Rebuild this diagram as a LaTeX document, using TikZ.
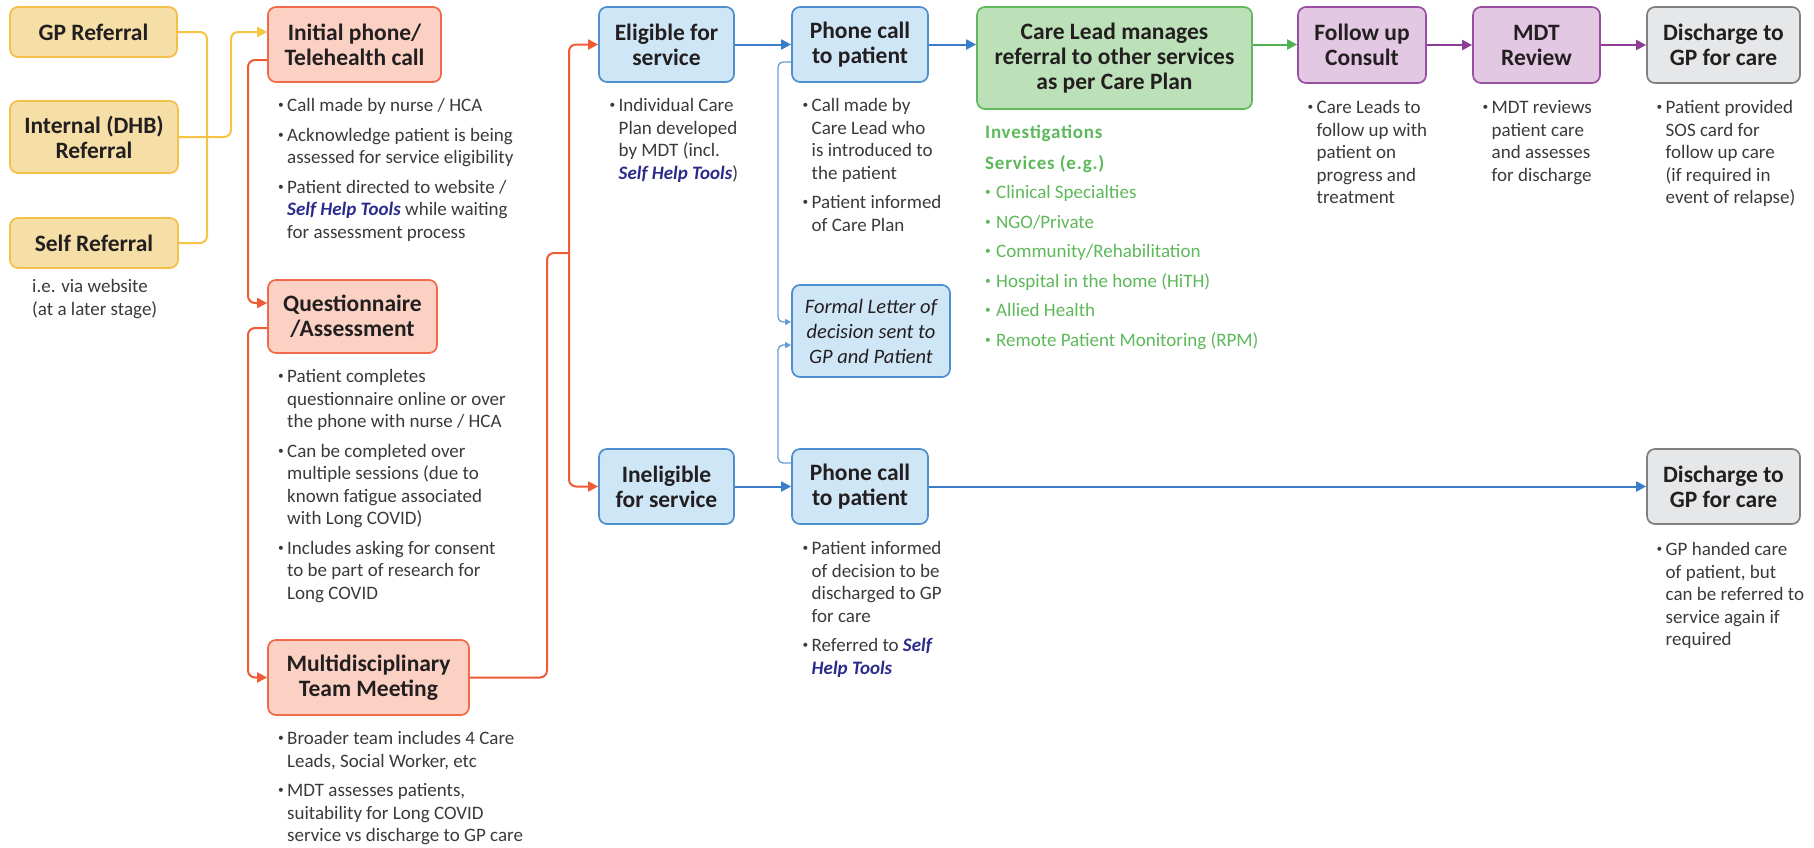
\documentclass[tikz,border=0pt]{standalone}
\usepackage{fontspec}
\usepackage{graphicx}
\setmainfont{Carlito}
\usetikzlibrary{arrows.meta}
\definecolor{ylfill}{HTML}{F5DFA7}
\definecolor{ylline}{HTML}{F3C04A}
\definecolor{ylconn}{HTML}{F6C345}
\definecolor{rdfill}{HTML}{FBD1C4}
\definecolor{rdline}{HTML}{F06A48}
\definecolor{rdconn}{HTML}{EF5B36}
\definecolor{blfill}{HTML}{CFE6F7}
\definecolor{blline}{HTML}{4F8FCF}
\definecolor{blconn}{HTML}{3A7DC9}
\definecolor{blthin}{HTML}{6A9BD3}
\definecolor{gnfill}{HTML}{BCE0B7}
\definecolor{gnline}{HTML}{62B85E}
\definecolor{gnconn}{HTML}{52B055}
\definecolor{gntxt}{HTML}{5DB85A}
\definecolor{pufill}{HTML}{E2C8E3}
\definecolor{puline}{HTML}{994FA1}
\definecolor{puconn}{HTML}{8E3D96}
\definecolor{gyfill}{HTML}{E6E7E8}
\definecolor{gyline}{HTML}{808080}
\definecolor{titlecol}{HTML}{231F20}
\definecolor{bodycol}{HTML}{3A3A3A}
\definecolor{shtcol}{HTML}{2B2A8A}
\newcommand{\ttl}{\fontsize{23.5}{25}\selectfont\bfseries}
\newcommand{\bdy}{\fontsize{19}{22.5}\selectfont}
\newcommand{\bu}[1][9pt]{\makebox[#1][l]{\raisebox{0.3ex}{\scalebox{0.6}{\textbullet}}}}
\newcommand{\sht}{\textcolor{shtcol}{\textbf{\textit{Self Help Tools}}}}
\newcommand{\shtw}[1]{\textcolor{shtcol}{\textbf{\textit{#1}}}}
\newcommand{\ghead}[1]{{\bfseries\addfontfeature{LetterSpace=4}#1}}
\tikzset{
  box/.style={draw, rounded corners=8pt, line width=1.7pt, align=center, inner sep=0pt, font=\ttl, text=titlecol},
  ybox/.style={box, draw=ylline, fill=ylfill},
  rbox/.style={box, draw=rdline, fill=rdfill},
  bbox/.style={box, draw=blline, fill=blfill},
  gbox/.style={box, draw=gnline, fill=gnfill},
  pbox/.style={box, draw=puline, fill=pufill},
  qbox/.style={box, draw=gyline, fill=gyfill},
  conn/.style={line width=2pt, rounded corners=7pt},
  thinconn/.style={line width=1.3pt, rounded corners=5pt, draw=blthin},
  arr/.style={-{Triangle[length=10pt,width=10pt]}},
  arrs/.style={-{Triangle[length=6pt,width=6pt]}},
  bodytxt/.style={anchor=north west, inner sep=0pt, font=\bdy, text=bodycol},
}
\begin{document}
\begin{tikzpicture}[x=1pt,y=-1pt]
\useasboundingbox (0,0) rectangle (1814,847);
% boxes
\node[ybox, minimum width=167pt, minimum height=50pt] (gp) at (93.5,32) {GP Referral};
\node[ybox, minimum width=168pt, minimum height=72pt] (internal) at (94,137) {Internal (DHB)\\Referral};
\node[ybox, minimum width=168pt, minimum height=50pt] (self) at (94,243) {Self Referral};
\node[rbox, minimum width=173pt, minimum height=75pt] (init) at (354.5,44.5) {Initial phone/\\Telehealth call};
\node[rbox, minimum width=169pt, minimum height=73pt] (quest) at (352.5,316.5) {Questionnaire\\/Assessment};
\node[rbox, minimum width=201pt, minimum height=75pt] (mdt) at (368.5,677.5) {Multidisciplinary\\Team Meeting};
\node[bbox, minimum width=135pt, minimum height=75pt] (elig) at (666.5,44.5) {Eligible for\\service};
\node[bbox, minimum width=135pt, minimum height=75pt] (inel) at (666.5,486.5) {Ineligible\\for service};
\node[bbox, minimum width=136pt, minimum height=75pt] (ph1) at (860,44.5) {Phone call\\to patient};
\node[bbox, minimum width=158pt, minimum height=92pt, font=\fontsize{20.5}{25}\selectfont\itshape] (letter) at (871,331) {Formal Letter of\\decision sent to\\GP and Patient};
\node[bbox, minimum width=136pt, minimum height=75pt] (ph2) at (860,486.5) {Phone call\\to patient};
\node[gbox, minimum width=275pt, minimum height=102pt] (care) at (1114.5,58) {Care Lead manages\\referral to other services\\as per Care Plan};
\node[pbox, minimum width=128pt, minimum height=76pt] (fu) at (1362,45) {Follow up\\Consult};
\node[pbox, minimum width=127pt, minimum height=76pt] (mdtr) at (1536.5,45) {MDT\\Review};
\node[qbox, minimum width=153pt, minimum height=76pt] (dis1) at (1723.5,45) {Discharge to\\GP for care};
\node[qbox, minimum width=153pt, minimum height=75pt] (dis2) at (1723.5,486.5) {Discharge to\\GP for care};
% helper coordinates
\coordinate (yv) at (207,0);
\coordinate (ym) at (231,0);
\coordinate (rv) at (248,60);
\coordinate (r303) at (0,303);
\coordinate (rq) at (248,328);
\coordinate (j1) at (547,253);
\coordinate (j2) at (569,253);
\coordinate (k1) at (778,62);
\coordinate (k2) at (0,322);
\coordinate (k3) at (778,463);
\coordinate (k4) at (0,345);
% connectors
\draw[conn, draw=ylconn] (gp.east) -| (yv |- self.east) -- (self.east);
\draw[conn, draw=ylconn, arr] (internal.east) -| (ym |- gp.east) -- (init.west |- gp.east);
\draw[conn, draw=rdconn, arr] (init.west |- rv) -- (rv) |- (quest.west |- r303);
\draw[conn, draw=rdconn, arr] (quest.west |- rq) -- (rq) |- (mdt.west);
\draw[conn, draw=rdconn] (mdt.east) -| (j1) -- (j2);
\draw[conn, draw=rdconn, arr] (j2) |- (elig.west);
\draw[conn, draw=rdconn, arr] (j2) |- (inel.west);
\draw[conn, draw=blconn, arr] (elig.east) -- (ph1.west |- elig.east);
\draw[conn, draw=blconn, arr] (ph1.east) -- (care.west |- ph1.east);
\draw[conn, draw=gnconn, arr] (care.east |- ph1.east) -- (fu.west |- ph1.east);
\draw[conn, draw=puconn, arr] (fu.east) -- (mdtr.west);
\draw[conn, draw=puconn, arr] (mdtr.east) -- (dis1.west);
\draw[conn, draw=blconn, arr] (inel.east) -- (ph2.west);
\draw[conn, draw=blconn, arr] (ph2.east) -- (dis2.west);
\draw[thinconn, arrs] (ph1.west |- k1) -- (k1) |- (letter.west |- k2);
\draw[thinconn, arrs] (ph2.west |- k3) -- (k3) |- (letter.west |- k4);
% texts
\node[bodytxt] (tnote) at (32,276.75) {\begin{tabular}{@{}l@{}}i.e. via website\\(at a later stage)\end{tabular}};
\node[bodytxt] (tinit) at (278,95.75) {\begin{tabular}{@{}l@{}l@{}}
\bu & Call made by nurse / HCA\\[7pt]
\bu & Acknowledge patient is being\\
 & assessed for service eligibility\\[7pt]
\bu & Patient directed to website /\\
 & \sht{} while waiting\\
 & for assessment process
\end{tabular}};
\node[bodytxt] (tquest) at (278,366.75) {\begin{tabular}{@{}l@{}l@{}}
\bu & Patient completes\\
 & questionnaire online or over\\
 & the phone with nurse / HCA\\[7pt]
\bu & Can be completed over\\
 & multiple sessions (due to\\
 & known fatigue associated\\
 & with Long COVID)\\[7pt]
\bu & Includes asking for consent\\
 & to be part of research for\\
 & Long COVID
\end{tabular}};
\node[bodytxt] (tmdt) at (278,728.75) {\begin{tabular}{@{}l@{}l@{}}
\bu & Broader team includes 4 Care\\
 & Leads, Social Worker, etc\\[7pt]
\bu & MDT assesses patients,\\
 & suitability for Long COVID\\
 & service vs discharge to GP care
\end{tabular}};
\node[bodytxt] (telig) at (609.5,95.75) {\begin{tabular}{@{}l@{}l@{}}
\bu & Individual Care\\
 & Plan developed\\
 & by MDT (incl.\\
 & \sht)
\end{tabular}};
\node[bodytxt] (tph1) at (802.5,95.75) {\begin{tabular}{@{}l@{}l@{}}
\bu & Call made by\\
 & Care Lead who\\
 & is introduced to\\
 & the patient\\[7pt]
\bu & Patient informed\\
 & of Care Plan
\end{tabular}};
\node[bodytxt] (tph2) at (802.5,538.75) {\begin{tabular}{@{}l@{}l@{}}
\bu & Patient informed\\
 & of decision to be\\
 & discharged to GP\\
 & for care\\[7pt]
\bu & Referred to \shtw{Self}\\
 & \shtw{Help Tools}
\end{tabular}};
\node[bodytxt, text=gntxt] (tgreen) at (985,122.75) {\begin{tabular}{@{}l@{}l@{}}
\multicolumn{2}{@{}l@{}}{\ghead{Investigations}}\\[8pt]
\multicolumn{2}{@{}l@{}}{\ghead{Services (e.g.)}}\\[7pt]
\bu[11pt] & Clinical Specialties\\[7pt]
\bu[11pt] & NGO/Private\\[7pt]
\bu[11pt] & Community/Rehabilitation\\[7pt]
\bu[11pt] & Hospital in the home (HiTH)\\[7pt]
\bu[11pt] & Allied Health\\[7pt]
\bu[11pt] & Remote Patient Monitoring (RPM)
\end{tabular}};
\node[bodytxt] (tfu) at (1307.5,97.75) {\begin{tabular}{@{}l@{}l@{}}
\bu & Care Leads to\\
 & follow up with\\
 & patient on\\
 & progress and\\
 & treatment
\end{tabular}};
\node[bodytxt] (tmdtr) at (1482.5,97.75) {\begin{tabular}{@{}l@{}l@{}}
\bu & MDT reviews\\
 & patient care\\
 & and assesses\\
 & for discharge
\end{tabular}};
\node[bodytxt] (tdis1) at (1656.5,97.75) {\begin{tabular}{@{}l@{}l@{}}
\bu & Patient provided\\
 & SOS card for\\
 & follow up care\\
 & (if required in\\
 & event of relapse)
\end{tabular}};
\node[bodytxt] (tdis2) at (1656.5,539.75) {\begin{tabular}{@{}l@{}l@{}}
\bu & GP handed care\\
 & of patient, but\\
 & can be referred to\\
 & service again if\\
 & required
\end{tabular}};
\end{tikzpicture}
\end{document}
